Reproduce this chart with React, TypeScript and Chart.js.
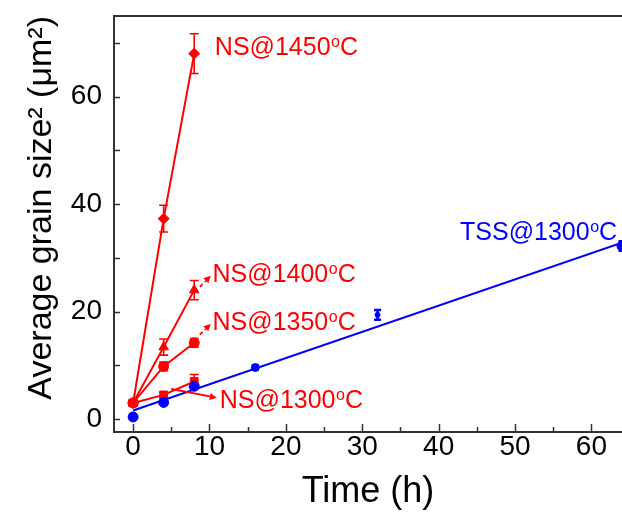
import React, { useEffect, useRef } from 'react';
import { Chart, registerables } from 'chart.js';
Chart.register(...registerables);

// ---- data ----
const nsTimes = [0, 4, 8];
const ns1450 = [3.0, 37.3, 68.0];
const ns1450Err = [0.5, 2.5, 3.7];
const ns1400 = [3.0, 13.4, 24.0];
const ns1400Err = [0.5, 1.5, 1.8];
const ns1350 = [3.0, 9.8, 14.2];
const ns1350Err = [0.5, 0.8, 0.8];
const ns1300 = [3.0, 4.5, 7.0];
const ns1300Err = [0.5, 0.5, 1.3];
const tssTimes = [0, 4, 8, 16, 32, 64];
const tss = [0.4, 3.1, 6.1, 9.6, 19.4, 32.2];
const tssErr = [0.3, 0.4, 0.5, 0.4, 0.9, 0.9];
const tssFitTimes = [0, 64];
const tssFit = [1.6, 32.8];
const xTickLabels = [0, 10, 20, 30, 40, 50, 60];
const xMinorTicks = [5, 15, 25, 35, 45, 55];
const yTickLabels = [0, 20, 40, 60];
const yMinorTicks = [10, 30, 50, 70];

const seriesLabels = [
  { main: 'NS@1450', suffix: 'C', x: 10.7, y: 67.7, color: '#ff0000' },
  { main: 'NS@1400', suffix: 'C', x: 10.4, y: 25.6, color: '#ff0000' },
  { main: 'NS@1350', suffix: 'C', x: 10.4, y: 16.6, color: '#ff0000' },
  { main: 'NS@1300', suffix: 'C', x: 11.35, y: 2.1, color: '#ff0000' },
  { main: 'TSS@1300', suffix: 'C', x: 42.8, y: 33.3, color: '#0000ff' },
];
const arrows = [
  { x1: 8.73, y1: 24.6, x2: 10.17, y2: 26.65, dashed: true },
  { x1: 8.73, y1: 15.7, x2: 10.17, y2: 17.7, dashed: true },
  { x1: 5.0, y1: 5.6, x2: 10.95, y2: 3.96, dashed: false },
];

const FONT = "'Liberation Sans', Arial, Helvetica, sans-serif";
const RED = '#ff0000';
const BLUE = '#0000ff';

const pts = (xs: number[], ys: number[]) => xs.map((x, i) => ({ x, y: ys[i] }));

const errorBarPlugin = {
  id: 'errorBars',
  beforeDatasetsDraw(chart: any) {
    const { ctx, chartArea } = chart;
    const ys = chart.scales.y;
    ctx.save();
    ctx.beginPath();
    ctx.rect(chartArea.left, chartArea.top, chartArea.right - chartArea.left, chartArea.bottom - chartArea.top);
    ctx.clip();
    chart.data.datasets.forEach((ds: any, di: number) => {
      if (!ds.errors) return;
      const meta = chart.getDatasetMeta(di);
      ctx.strokeStyle = ds.borderColor;
      ctx.lineWidth = ds.errWidth || 1.6;
      meta.data.forEach((el: any, i: number) => {
        const v = ds.data[i].y;
        const e = ds.errors[i];
        const px = el.x;
        const top = ys.getPixelForValue(v + e);
        const bot = ys.getPixelForValue(v - e);
        const cw = ds.capHalf || 4.5;
        ctx.beginPath();
        ctx.moveTo(px, top); ctx.lineTo(px, bot);
        ctx.moveTo(px - cw, top); ctx.lineTo(px + cw, top);
        ctx.moveTo(px - cw, bot); ctx.lineTo(px + cw, bot);
        ctx.stroke();
      });
    });
    ctx.restore();
  },
};

const axesPlugin = {
  id: 'axesFrame',
  afterDatasetsDraw(chart: any) {
    const { ctx, chartArea } = chart;
    const xs = chart.scales.x;
    const ys = chart.scales.y;
    ctx.save();
    ctx.strokeStyle = '#333333';
    ctx.lineWidth = 2;
    ctx.beginPath();
    ctx.moveTo(chartArea.right + 2, chartArea.top);
    ctx.lineTo(chartArea.left, chartArea.top);
    ctx.lineTo(chartArea.left, chartArea.bottom);
    ctx.lineTo(chartArea.right + 2, chartArea.bottom);
    ctx.stroke();
    ctx.lineWidth = 1.5;
    ctx.beginPath();
    xTickLabels.forEach((v) => {
      const p = Math.round(xs.getPixelForValue(v)) + 0.5;
      ctx.moveTo(p, chartArea.bottom); ctx.lineTo(p, chartArea.bottom - 8);
    });
    xMinorTicks.forEach((v) => {
      const p = Math.round(xs.getPixelForValue(v)) + 0.5;
      ctx.moveTo(p, chartArea.bottom); ctx.lineTo(p, chartArea.bottom - 5);
    });
    [...yTickLabels, ...yMinorTicks].forEach((v) => {
      const p = Math.round(ys.getPixelForValue(v)) + 0.5;
      ctx.moveTo(chartArea.left, p); ctx.lineTo(chartArea.left + 6, p);
    });
    ctx.stroke();

    // labels
    seriesLabels.forEach((l) => {
      const px = xs.getPixelForValue(l.x);
      const py = ys.getPixelForValue(l.y);
      ctx.fillStyle = l.color;
      ctx.textBaseline = 'alphabetic';
      ctx.textAlign = 'left';
      ctx.font = `25px ${FONT}`;
      ctx.fillText(l.main, px, py);
      let w = ctx.measureText(l.main).width;
      ctx.font = `16px ${FONT}`;
      ctx.fillText('o', px + w + 0.5, py - 8);
      w += ctx.measureText('o').width + 0.5;
      ctx.font = `25px ${FONT}`;
      ctx.fillText(l.suffix, px + w, py);
    });

    // arrows
    arrows.forEach((a) => {
      const x1 = xs.getPixelForValue(a.x1), y1 = ys.getPixelForValue(a.y1);
      const x2 = xs.getPixelForValue(a.x2), y2 = ys.getPixelForValue(a.y2);
      const ang = Math.atan2(y2 - y1, x2 - x1);
      const hl = 7, hw = 3.5;
      const bx = x2 - hl * Math.cos(ang), by = y2 - hl * Math.sin(ang);
      ctx.strokeStyle = RED;
      ctx.fillStyle = RED;
      ctx.lineWidth = 1.8;
      ctx.setLineDash(a.dashed ? [4, 3] : []);
      ctx.beginPath();
      ctx.moveTo(x1, y1); ctx.lineTo(bx, by);
      ctx.stroke();
      ctx.setLineDash([]);
      ctx.beginPath();
      ctx.moveTo(x2, y2);
      ctx.lineTo(bx + hw * Math.sin(ang), by - hw * Math.cos(ang));
      ctx.lineTo(bx - hw * Math.sin(ang), by + hw * Math.cos(ang));
      ctx.closePath();
      ctx.fill();
    });
    ctx.restore();
  },
};

export default function App() {
  const ref = useRef<HTMLCanvasElement | null>(null);
  useEffect(() => {
    document.body.style.margin = '0';
    const canvas = ref.current!;
    const nsDs = (label: string, ys: number[], errs: number[], style: string, r: number) => ({
      label,
      data: pts(nsTimes, ys),
      errors: errs,
      showLine: true,
      borderColor: RED,
      backgroundColor: RED,
      borderWidth: 2,
      pointStyle: style,
      pointRadius: r,
      pointBorderWidth: 1,
    });
    const chart = new Chart(canvas, {
      type: 'scatter',
      data: {
        datasets: [
          {
            label: 'TSS fit',
            data: pts(tssFitTimes, tssFit),
            showLine: true,
            borderColor: BLUE,
            borderWidth: 2,
            pointRadius: 0,
          } as any,
          {
            label: 'TSS@1300',
            data: pts(tssTimes, tss),
            errors: tssErr,
            errWidth: 2.5,
            capHalf: 3.5,
            showLine: false,
            borderColor: BLUE,
            backgroundColor: BLUE,
            pointStyle: 'circle',
            pointRadius: [5, 5, 5, 4, 2.5, 5],
            pointBorderWidth: 1,
          } as any,
          nsDs('NS@1300', ns1300, ns1300Err, 'rect', 5.5) as any,
          nsDs('NS@1350', ns1350, ns1350Err, 'circle', 5) as any,
          nsDs('NS@1400', ns1400, ns1400Err, 'triangle', 5.5) as any,
          nsDs('NS@1450', ns1450, ns1450Err, 'rectRot', 5.5) as any,
        ],
      },
      options: {
        animation: false,
        responsive: false,
        devicePixelRatio: 1,
        layout: { autoPadding: false, padding: { top: 16, left: 0, right: 0, bottom: 0 } },
        plugins: { legend: { display: false }, tooltip: { enabled: false } },
        scales: {
          x: {
            type: 'linear',
            min: -2.5,
            max: 64,
            grid: { display: false, drawTicks: false },
            border: { display: false },
            afterBuildTicks: (s: any) => { s.ticks = xTickLabels.map((v) => ({ value: v })); },
            afterFit: (s: any) => { s.height = 83; s.paddingLeft = 0; s.paddingRight = 0; },
            ticks: {
              autoSkip: false,
              maxRotation: 0,
              padding: 1,
              color: '#000',
              font: { size: 28, family: FONT, lineHeight: 1 },
            },
            title: {
              display: true,
              text: 'Time (h)',
              color: '#000',
              font: { size: 36, family: FONT },
              padding: { top: 0, bottom: 1 },
            },
          },
          y: {
            type: 'linear',
            min: -2.4,
            max: 75,
            grid: { display: false, drawTicks: false },
            border: { display: false },
            afterBuildTicks: (s: any) => { s.ticks = yTickLabels.map((v) => ({ value: v })); },
            afterFit: (s: any) => { s.width = 114; s.paddingTop = 0; s.paddingBottom = 0; },
            ticks: {
              autoSkip: false,
              padding: 12,
              color: '#000',
              font: { size: 28, family: FONT, lineHeight: 1 },
            },
            title: {
              display: true,
              text: 'Average grain size² (μm²)',
              align: 'end',
              color: '#000',
              font: { size: 34, family: FONT },
              padding: { top: 21, bottom: 0 },
            },
          },
        },
      } as any,
      plugins: [errorBarPlugin, axesPlugin],
    });
    return () => chart.destroy();
  }, []);
  return (
    <div style={{ width: 622, height: 515 }}>
      <canvas ref={ref} width={622} height={515} />
    </div>
  );
}
